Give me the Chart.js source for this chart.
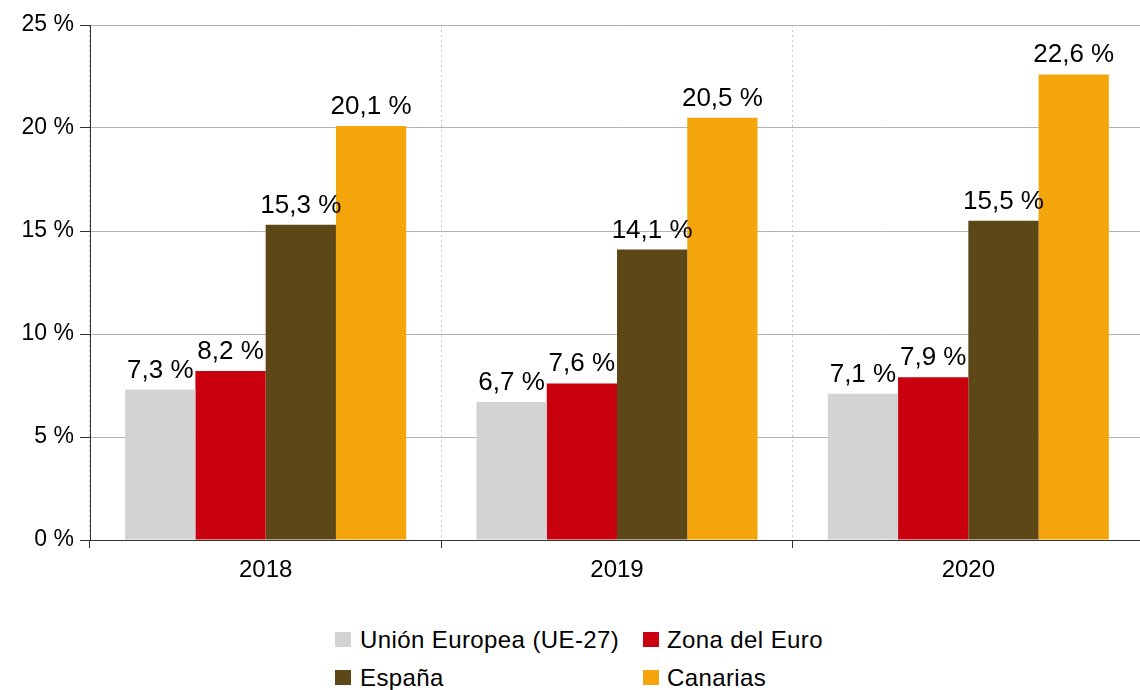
<!DOCTYPE html>
<html>
<head>
<meta charset="utf-8">
<script src="https://cdn.jsdelivr.net/npm/chart.js@4"></script>
<style>
  html, body { margin: 0; padding: 0; background: #fff; overflow: hidden; }
  #wrap { position: relative; width: 1140px; height: 690px; overflow: hidden; font-family: "Liberation Sans", Arial, sans-serif; }
  #c { position: absolute; left: 0; top: 0; }
  .box { position: absolute; width: 16px; height: 15px; }
  .txt { position: absolute; font-size: 24px; line-height: 26px; letter-spacing: 0.4px; color: #000; white-space: nowrap; }
</style>
</head>
<body>
<div id="wrap">
  <canvas id="c" width="1144" height="600"></canvas>
  <div id="legend"></div>
</div>
<script>
const categories = ["2018", "2019", "2020"];
const seriesNames = ["Unión Europea (UE-27)", "Zona del Euro", "España", "Canarias"];
const ueValues = [7.3, 6.7, 7.1];
const euroValues = [8.2, 7.6, 7.9];
const espanaValues = [15.3, 14.1, 15.5];
const canariasValues = [20.1, 20.5, 22.6];
const yTicks = [0, 5, 10, 15, 20, 25];
const colors = ["#d3d3d3", "#c9000e", "#5e4716", "#f5a50c"];

const allValues = [ueValues, euroValues, espanaValues, canariasValues];
const fmt = v => v.toFixed(1).replace('.', ',') + ' %';

const labelPlugin = {
  id: 'valueLabels',
  afterDatasetsDraw(chart) {
    const ctx = chart.ctx;
    ctx.save();
    ctx.font = '26px "Liberation Sans", Arial, sans-serif';
    ctx.fillStyle = '#000';
    ctx.textAlign = 'center';
    ctx.textBaseline = 'alphabetic';
    chart.data.datasets.forEach((ds, i) => {
      const meta = chart.getDatasetMeta(i);
      meta.data.forEach((bar, j) => {
        ctx.fillText(fmt(ds.data[j]), bar.x, bar.y - 12);
      });
    });
    ctx.restore();
  }
};

const chart = new Chart(document.getElementById('c'), {
  type: 'bar',
  data: {
    labels: categories,
    datasets: seriesNames.map((n, i) => ({
      label: n,
      data: allValues[i],
      backgroundColor: colors[i],
      borderWidth: 0,
      barPercentage: 1.0,
      categoryPercentage: 0.8
    }))
  },
  options: {
    responsive: false,
    animation: false,
    layout: { padding: { top: 25, right: 0, left: 0, bottom: 0 } },
    plugins: { legend: { display: false }, tooltip: { enabled: false } },
    scales: {
      x: {
        grid: {
          display: true,
          offset: true,
          color: '#c8c8c8',
          drawTicks: true,
          tickLength: 8,
          tickColor: '#333',
          tickBorderDash: []
        },
        border: { display: true, color: '#333', width: 1, dash: [2, 3] },
        ticks: { color: '#000', font: { size: 24, family: '"Liberation Sans", Arial, sans-serif' }, padding: 8 },
        afterFit(scale) { scale.height = 60; }
      },
      y: {
        min: 0, max: 25,
        afterBuildTicks(scale) { scale.ticks = yTicks.map(v => ({ value: v })); },
        grid: { color: '#b3b3b3', drawTicks: true, tickLength: 10, tickColor: '#333' },
        border: { display: true, color: '#333', width: 1 },
        ticks: {
          color: '#000',
          font: { size: 23, family: '"Liberation Sans", Arial, sans-serif' },
          padding: 6,
          callback: v => v + ' %'
        },
        afterFit(scale) { scale.width = 90; }
      }
    }
  },
  plugins: [labelPlugin]
});

// HTML legend in two aligned columns
const legend = document.getElementById('legend');
const boxPos = [[335, 632], [643, 632], [335, 670], [643, 670]];
const txtPos = [[360, 627], [667, 627], [360, 665], [667, 665]];
seriesNames.forEach((n, i) => {
  const b = document.createElement('div');
  b.className = 'box';
  b.style.left = boxPos[i][0] + 'px';
  b.style.top = boxPos[i][1] + 'px';
  b.style.background = colors[i];
  legend.appendChild(b);
  const t = document.createElement('div');
  t.className = 'txt';
  t.style.left = txtPos[i][0] + 'px';
  t.style.top = txtPos[i][1] + 'px';
  t.textContent = n;
  legend.appendChild(t);
});
</script>
</body>
</html>
